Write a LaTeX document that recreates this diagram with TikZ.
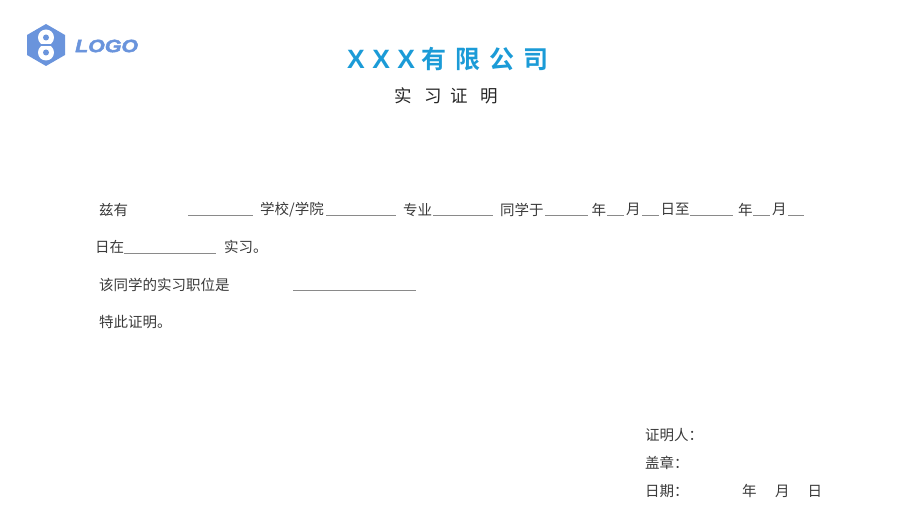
\documentclass[tikz,border=0pt]{standalone}
\usepackage{fontspec}
\setmainfont{Noto Sans CJK SC}
\newfontfamily\logofont[FakeBold=2.5,FakeStretch=1.2]{Liberation Sans Bold Italic}
\newfontfamily\titlefont[LetterSpace=36]{Noto Sans CJK SC Bold}
\newfontfamily\titlelatin[LetterSpace=28]{Liberation Sans Bold}
\definecolor{logoblue}{HTML}{6A94DC}
\definecolor{titleblue}{HTML}{1B9BD7}
\definecolor{bodyink}{HTML}{3A3A3A}
\definecolor{ruleink}{HTML}{8A8A8A}
\tikzset{
  body/.style={anchor=west,inner sep=0pt,text=bodyink,font=\fontsize{14.5}{16}\selectfont},
  blank/.style={draw=ruleink,line width=0.8pt},
}
\begin{document}
\begin{tikzpicture}[x=1pt,y=-1pt]
\useasboundingbox (0,0) rectangle (900,529);
% logo
\fill[logoblue] (46,24) -- (65,35) -- (65,55) -- (46,66) -- (27,55) -- (27,35) -- cycle;
\fill[white] (46,37.5) circle (8) (46,52.5) circle (8);
\fill[logoblue] (46,37.5) circle (3) (46,52.5) circle (3);
\fill[logoblue] (36,44) rectangle (56,46);
\node[anchor=west,inner sep=0pt,text=logoblue] (logo) at (75,46) {\fontsize{17.8}{18}\selectfont\logofont LOGO};
% title
\node[anchor=west,inner sep=0pt,text=titleblue] (title) at (347,59) {{\fontsize{26.5}{28}\selectfont\titlelatin XXX}\hspace{6pt}{\fontsize{25}{28}\selectfont\titlefont 有限公司}};
\node[anchor=west,inner sep=0pt,text=black!85] (subtitle) at (394.5,96) {\fontsize{17.5}{20}\selectfont 实\hspace{12.5pt}习\hspace{8.5pt}证\hspace{12.5pt}明};
% line 1
\node[body] (a1) at (99,209.5) {兹有};
\node[body] (a2) at (260,209.5) {学校/学院};
\node[body] (a3) at (403,209.5) {专业};
\node[body] (a4) at (500,209.5) {同学于};
\node[body] (a5) at (591.5,209.5) {年};
\node[body] (a6) at (626,209.5) {月};
\node[body] (a7) at (660.5,209.5) {日至};
\node[body] (a8) at (738,209.5) {年};
\node[body] (a9) at (772,209.5) {月};
\draw[blank] (188,215.5) -- (253,215.5);
\draw[blank] (326,215.5) -- (396,215.5);
\draw[blank] (433,215.5) -- (493,215.5);
\draw[blank] (545,215.5) -- (588,215.5);
\draw[blank] (607,215.5) -- (624,215.5);
\draw[blank] (642,215.5) -- (659,215.5);
\draw[blank] (690,215.5) -- (733,215.5);
\draw[blank] (753,215.5) -- (770,215.5);
\draw[blank] (788,215.5) -- (804,215.5);
% line 2
\node[body] (b1) at (95,247) {日在};
\node[body] (b2) at (224,247) {实习。};
\draw[blank] (124,253) -- (216,253);
% line 3
\node[body] (c1) at (99,285) {该同学的实习职位是};
\draw[blank] (293,290.5) -- (416,290.5);
% line 4
\node[body] (d1) at (99,322) {特此证明。};
% signature
\node[body] (e1) at (645,435) {证明人：};
\node[body] (e2) at (645,462.5) {盖章：};
\node[body] (e3) at (645,491) {日期：};
\node[body] (e4) at (742,491) {年};
\node[body] (e5) at (775,491) {月};
\node[body] (e6) at (807.5,491) {日};
\end{tikzpicture}
\end{document}
